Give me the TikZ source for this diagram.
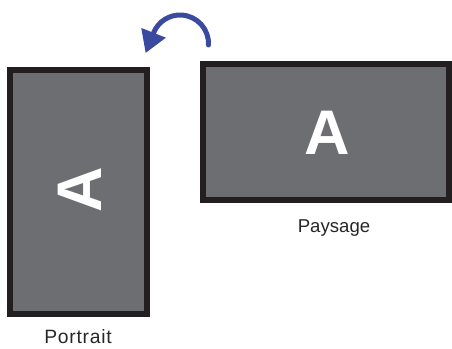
\documentclass[tikz,border=0pt]{standalone}
\usepackage{fontspec}
\setmainfont{Liberation Sans}
\newfontfamily\portraitfont[LetterSpace=3.8]{Liberation Sans}
\usetikzlibrary{arrows.meta}
\definecolor{screenfill}{HTML}{6D6E71}
\definecolor{screenframe}{HTML}{231F20}
\definecolor{turnblue}{HTML}{3A4AA0}
\begin{document}
\begin{tikzpicture}[x=1pt,y=1pt,
  screen/.style={draw=screenframe,fill=screenfill,line width=6pt},
  bigletter/.style={text=white,font=\fontsize{63}{63}\selectfont\bfseries,inner sep=0pt},
  caption/.style={text=black!85,font=\fontsize{18.6}{20}\selectfont,inner sep=0pt,anchor=base},
  turn/.style={draw=turnblue,fill=turnblue,line width=5pt,line cap=round,
    -{Triangle[length=21.5pt,width=26.5pt,line width=0pt 0]}}]
\useasboundingbox (0,0) rectangle (452,348);
% Portrait screen
\draw[screen] (10,34) rectangle (147,278);
\node[bigletter,rotate=90] (pa) at (80,158.5) {A};
\node[caption,font=\fontsize{19.3}{20}\portraitfont] (pt) at (78,5) {Portrait};
% Landscape screen
\draw[screen] (203,148) rectangle (449,284);
\node[bigletter] (la) at (327.5,215.5) {A};
\node[caption] (lt) at (334,115) {Paysage};
% rotation arrow
\coordinate (c) at (180,304.5);
\draw[turn,fill=none] ([shift={(-3:28.5)}]c) arc[start angle=-3,end angle=158,radius=28.5]
  -- ++(-7.9,-20);
\end{tikzpicture}
\end{document}
